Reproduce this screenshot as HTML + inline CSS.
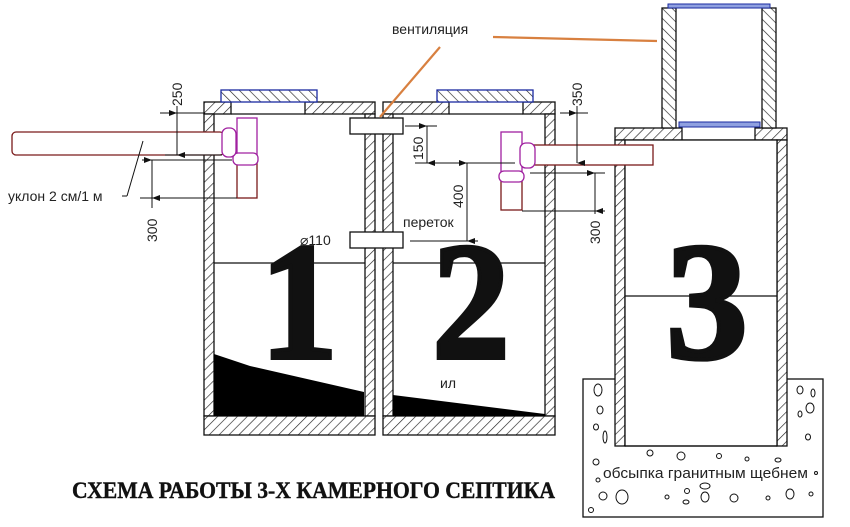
<!DOCTYPE html>
<html><head><meta charset="utf-8"><style>
html,body{margin:0;padding:0;background:#fff;}
svg{display:block;}
.s{font-family:"Liberation Sans",sans-serif;fill:#222;}
.big{font-family:"Liberation Serif",serif;font-weight:bold;font-size:168px;fill:#111;stroke:#111;stroke-width:4;}
.title{font-family:"Liberation Serif",serif;font-weight:bold;font-size:23px;fill:#111;stroke:#111;stroke-width:0.4;}
</style></head><body>
<svg width="850" height="527" viewBox="0 0 850 527" xmlns="http://www.w3.org/2000/svg">
<defs>
<pattern id="h" patternUnits="userSpaceOnUse" width="7" height="7" patternTransform="rotate(45)">
<rect width="7" height="7" fill="#fff"/><line x1="0" y1="0" x2="0" y2="7" stroke="#222" stroke-width="1.3"/>
</pattern>
<pattern id="hb" patternUnits="userSpaceOnUse" width="7" height="7" patternTransform="rotate(-45)">
<rect width="7" height="7" fill="#fff"/><line x1="0" y1="0" x2="0" y2="7" stroke="#222" stroke-width="1.3"/>
</pattern>
<marker id="a" markerWidth="8" markerHeight="8" refX="4" refY="8" orient="auto-start-reverse" markerUnits="userSpaceOnUse">
<path d="M1,0 L4,8 L7,0 Z" fill="#111"/></marker>
</defs>
<g stroke="#111" stroke-width="1.3">
<rect x="204" y="102" width="27" height="12" fill="url(#h)"/>
<rect x="305" y="102" width="70" height="12" fill="url(#h)"/>
<line x1="231" y1="114" x2="305" y2="114"/>
<rect x="221" y="90" width="96" height="12" fill="url(#hb)" stroke="#1a2aa0"/>
<rect x="204" y="114" width="10" height="302" fill="url(#h)"/>
<rect x="365" y="114" width="10" height="302" fill="url(#h)"/>
<rect x="204" y="416" width="171" height="19" fill="url(#h)"/>
<rect x="383" y="102" width="66" height="12" fill="url(#h)"/>
<rect x="523" y="102" width="32" height="12" fill="url(#h)"/>
<line x1="449" y1="114" x2="523" y2="114"/>
<rect x="437" y="90" width="96" height="12" fill="url(#hb)" stroke="#1a2aa0"/>
<rect x="383" y="114" width="10" height="302" fill="url(#h)"/>
<rect x="545" y="114" width="10" height="302" fill="url(#h)"/>
<rect x="383" y="416" width="172" height="19" fill="url(#h)"/>
<line x1="214" y1="263" x2="365" y2="263"/>
<line x1="393" y1="263" x2="545" y2="263"/>
<polygon points="214,354 250,366 364,392 364,416 214,416" fill="#000" stroke="none"/>
<polygon points="393,395 545,414 545,416 393,416" fill="#000" stroke="none"/>
<rect x="583" y="379" width="240" height="138" fill="#fff"/>
<rect x="615" y="128" width="67" height="12" fill="url(#h)"/>
<rect x="755" y="128" width="32" height="12" fill="url(#h)"/>
<line x1="682" y1="140" x2="755" y2="140"/>
<rect x="615" y="140" width="10" height="306" fill="url(#h)"/>
<rect x="777" y="140" width="10" height="306" fill="url(#h)"/>
<rect x="625" y="140" width="152" height="306" fill="#fff"/>
<line x1="625" y1="446" x2="777" y2="446"/>
<line x1="625" y1="296" x2="777" y2="296"/>
<rect x="662" y="8" width="14" height="120" fill="url(#hb)"/>
<rect x="762" y="8" width="14" height="120" fill="url(#hb)"/>
<rect x="668" y="4" width="102" height="4" fill="#8fa0e0" stroke="#1a2aa0" stroke-width="1"/>
<rect x="679" y="122" width="81" height="5" fill="#8fa0e0" stroke="#1a2aa0" stroke-width="1"/>
<rect x="350" y="118" width="53" height="16" fill="#fff"/>
<rect x="350" y="232" width="53" height="16" fill="#fff"/>
</g>
<g fill="#fff" stroke-width="1.3">
<rect x="12" y="132" width="212" height="23" rx="4" stroke="#7a1a1a"/>
<rect x="237" y="118" width="20" height="42" stroke="#a020a0"/>
<rect x="237" y="163" width="20" height="35" stroke="#7a1a1a"/>
<rect x="233" y="153" width="25" height="12" rx="5" stroke="#a020a0"/>
<rect x="222" y="128" width="14" height="29" rx="6" stroke="#a020a0"/>
<rect x="533" y="145" width="120" height="20" stroke="#7a1a1a"/>
<rect x="501" y="132" width="21" height="42" stroke="#a020a0"/>
<rect x="501" y="178" width="21" height="32" stroke="#7a1a1a"/>
<rect x="499" y="171" width="25" height="11" rx="5" stroke="#a020a0"/>
<rect x="520" y="143" width="15" height="25" rx="6" stroke="#a020a0"/>
</g>
<g stroke="#d88040" stroke-width="2.2">
<line x1="493" y1="37" x2="657" y2="41"/>
<line x1="440" y1="47" x2="380" y2="117"/>
</g>
<g stroke="#111" stroke-width="1">
<line x1="160" y1="113" x2="205" y2="113"/><line x1="165" y1="155" x2="222" y2="155"/>
<line x1="177" y1="113" x2="177" y2="155" marker-start="url(#a)" marker-end="url(#a)"/>
<line x1="177" y1="106" x2="177" y2="113"/>
<line x1="142" y1="160" x2="232" y2="160"/><line x1="140" y1="198" x2="237" y2="198"/>
<line x1="152" y1="160" x2="152" y2="198" marker-start="url(#a)" marker-end="url(#a)"/>
<line x1="152" y1="198" x2="152" y2="208"/>
<line x1="405" y1="126" x2="437" y2="126"/><line x1="415" y1="163" x2="515" y2="163"/>
<line x1="427" y1="126" x2="427" y2="163" marker-start="url(#a)" marker-end="url(#a)"/>
<line x1="467" y1="163" x2="467" y2="241" marker-start="url(#a)" marker-end="url(#a)"/>
<line x1="410" y1="241" x2="478" y2="241"/>
<line x1="560" y1="113" x2="588" y2="113"/>
<line x1="577" y1="113" x2="577" y2="163" marker-start="url(#a)" marker-end="url(#a)"/>
<line x1="577" y1="106" x2="577" y2="113"/>
<line x1="530" y1="173" x2="605" y2="173"/><line x1="522" y1="211" x2="605" y2="211"/>
<line x1="595" y1="173" x2="595" y2="211" marker-start="url(#a)" marker-end="url(#a)"/>
<line x1="595" y1="211" x2="595" y2="214"/>
<line x1="122" y1="196" x2="127" y2="196"/>
<line x1="127" y1="196" x2="143" y2="141"/>
</g>
<g class="s" font-size="14">
<text class="s" transform="translate(182,106) rotate(-90)">250</text>
<text class="s" transform="translate(157,242) rotate(-90)">300</text>
<text class="s" transform="translate(423,160) rotate(-90)">150</text>
<text class="s" transform="translate(463,208) rotate(-90)">400</text>
<text class="s" transform="translate(582,106) rotate(-90)">350</text>
<text class="s" transform="translate(600,244) rotate(-90)">300</text>
<text class="s" x="8" y="201">уклон 2 см/1 м</text>
<text class="s" x="392" y="34">вентиляция</text>
<text class="s" x="403" y="227">переток</text>
<text class="s" x="300" y="245">⌀110</text>
<text class="s" x="440" y="388">ил</text>
<text class="s" x="603" y="478" font-size="14.5" textLength="205" lengthAdjust="spacingAndGlyphs">обсыпка гранитным щебнем</text>
</g>
<text class="big" x="260" y="358" textLength="78" lengthAdjust="spacingAndGlyphs">1</text>
<text class="big" x="432" y="358" textLength="78" lengthAdjust="spacingAndGlyphs">2</text>
<text class="big" x="666" y="358" textLength="82" lengthAdjust="spacingAndGlyphs">3</text>
<g fill="none" stroke="#111" stroke-width="1">
<ellipse cx="598" cy="390" rx="4" ry="6"/><ellipse cx="600" cy="410" rx="3" ry="4"/>
<ellipse cx="596" cy="427" rx="2.5" ry="3"/><ellipse cx="605" cy="437" rx="2" ry="6"/>
<ellipse cx="596" cy="462" rx="3" ry="3"/><ellipse cx="598" cy="480" rx="2" ry="2"/>
<ellipse cx="603" cy="496" rx="4" ry="4"/><ellipse cx="622" cy="497" rx="6" ry="7"/>
<ellipse cx="591" cy="510" rx="2.5" ry="2.5"/><ellipse cx="650" cy="453" rx="3" ry="3"/>
<ellipse cx="681" cy="456" rx="4" ry="4"/><ellipse cx="719" cy="456" rx="2.5" ry="2.5"/>
<ellipse cx="747" cy="459" rx="2" ry="2"/><ellipse cx="778" cy="460" rx="3" ry="2"/>
<ellipse cx="667" cy="497" rx="2" ry="2"/><ellipse cx="687" cy="491" rx="2.5" ry="2.5"/>
<ellipse cx="705" cy="486" rx="5" ry="3"/><ellipse cx="705" cy="497" rx="4" ry="5"/>
<ellipse cx="686" cy="502" rx="3" ry="2"/><ellipse cx="734" cy="498" rx="4" ry="4"/>
<ellipse cx="768" cy="498" rx="2" ry="2"/><ellipse cx="790" cy="494" rx="4" ry="5"/>
<ellipse cx="811" cy="494" rx="2" ry="2"/><ellipse cx="800" cy="390" rx="3" ry="4"/>
<ellipse cx="813" cy="393" rx="2" ry="4"/><ellipse cx="810" cy="408" rx="4" ry="5"/>
<ellipse cx="800" cy="414" rx="2" ry="3"/><ellipse cx="808" cy="437" rx="2.5" ry="3"/>
<ellipse cx="816" cy="473" rx="1.5" ry="1.5"/>
</g>
<text class="title" x="72" y="498" textLength="483" lengthAdjust="spacingAndGlyphs">СХЕМА РАБОТЫ 3-Х КАМЕРНОГО СЕПТИКА</text>
</svg>
</body></html>
